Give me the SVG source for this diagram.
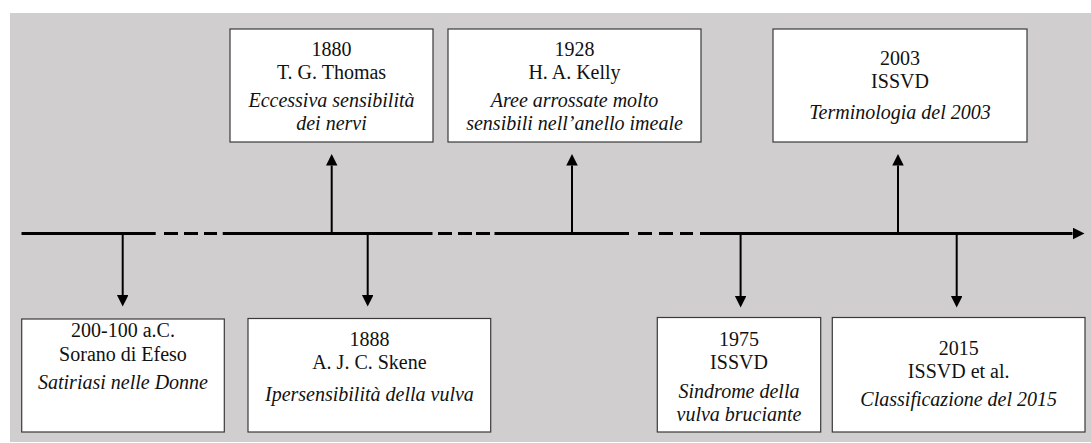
<svg xmlns="http://www.w3.org/2000/svg" width="1091" height="443" viewBox="0 0 1091 443">
<defs>
<marker id="ah" markerUnits="userSpaceOnUse" markerWidth="12" markerHeight="12" refX="0" refY="5.75" orient="auto">
<path d="M0,0 L11.5,5.75 L0,11.5 z" fill="#000"/>
</marker>
<marker id="ahBig" markerUnits="userSpaceOnUse" markerWidth="13" markerHeight="13" refX="0" refY="6" orient="auto">
<path d="M0,0 L12,6 L0,12 z" fill="#000"/>
</marker>
<style>
.box{fill:#fff;stroke:#3a3a3a;stroke-width:1.2}
.t{font-family:"Liberation Serif","Times New Roman",serif;font-size:20px;fill:#111;text-anchor:middle}
.i{font-style:italic}
.conn{stroke:#000;stroke-width:2;fill:none}
.axis{stroke:#000;stroke-width:3;fill:none}
</style>
</defs>
<rect x="10" y="13" width="1081" height="429" fill="#d0cecf"/>
<g id="connectors">
<path class="axis" d="M21.5,233.5 H155.7 M164,233.5 H178 M184,233.5 H198 M204,233.5 H217 M222.7,233.5 H432.5 M438,233.5 H452 M458,233.5 H472 M476,233.5 H490 M494.5,233.5 H629 M638,233.5 H652 M659,233.5 H673 M680,233.5 H693 M700,233.5 H1072.5" marker-end="url(#ahBig)"/>
<path class="conn" d="M122.7,235 V295" marker-end="url(#ah)"/>
<path class="conn" d="M331.7,232 V165.5" marker-end="url(#ah)"/>
<path class="conn" d="M367.7,235 V295" marker-end="url(#ah)"/>
<path class="conn" d="M572,232 V165.5" marker-end="url(#ah)"/>
<path class="conn" d="M740.6,235 V296" marker-end="url(#ah)"/>
<path class="conn" d="M898,232 V165.5" marker-end="url(#ah)"/>
<path class="conn" d="M956.7,235 V296" marker-end="url(#ah)"/>
</g>
<g id="n1880">
<rect class="box" x="230" y="29" width="203" height="113"/>
<text class="t" x="331.5" y="56">1880</text>
<text class="t" x="331.5" y="79">T. G. Thomas</text>
<text class="t i" x="331.5" y="107">Eccessiva sensibilità</text>
<text class="t i" x="331.5" y="130">dei nervi</text>
</g>
<g id="n1928">
<rect class="box" x="448" y="29" width="253" height="113"/>
<text class="t" x="574.5" y="56">1928</text>
<text class="t" x="574.5" y="79">H. A. Kelly</text>
<text class="t i" x="574.5" y="107">Aree arrossate molto</text>
<text class="t i" x="574.5" y="130">sensibili nell’anello imeale</text>
</g>
<g id="n2003">
<rect class="box" x="773" y="29" width="254" height="113"/>
<text class="t" x="900" y="65">2003</text>
<text class="t" x="900" y="88">ISSVD</text>
<text class="t i" x="900" y="119">Terminologia del 2003</text>
</g>
<g id="n200">
<rect class="box" x="21.7" y="319" width="202.6" height="113"/>
<text class="t" x="123" y="337">200-100 a.C.</text>
<text class="t" x="123" y="361">Sorano di Efeso</text>
<text class="t i" x="123" y="389">Satiriasi nelle Donne</text>
</g>
<g id="n1888">
<rect class="box" x="248" y="318.5" width="242.7" height="113.5"/>
<text class="t" x="369.4" y="345.5">1888</text>
<text class="t" x="369.4" y="368.5">A. J. C. Skene</text>
<text class="t i" x="369.4" y="401">Ipersensibilità della vulva</text>
</g>
<g id="n1975">
<rect class="box" x="657.3" y="317.5" width="163.4" height="114.5"/>
<text class="t" x="739" y="346">1975</text>
<text class="t" x="739" y="368.5">ISSVD</text>
<text class="t i" x="739" y="398">Sindrome della</text>
<text class="t i" x="739" y="420.5">vulva bruciante</text>
</g>
<g id="n2015">
<rect class="box" x="832.3" y="317.5" width="252.7" height="114.5"/>
<text class="t" x="958.7" y="355">2015</text>
<text class="t" x="958.7" y="378">ISSVD et al.</text>
<text class="t i" x="958.7" y="406">Classificazione del 2015</text>
</g>
</svg>
